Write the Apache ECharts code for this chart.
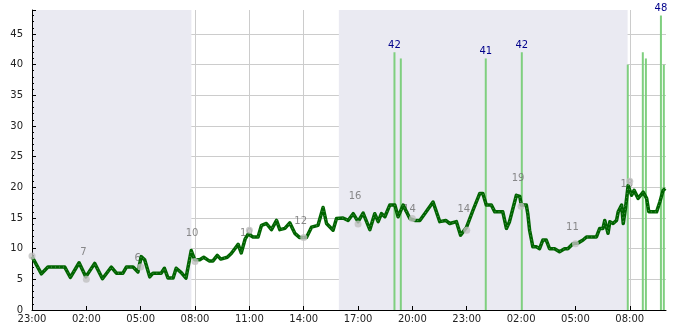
<!DOCTYPE html>
<html>
<head>
<meta charset="utf-8">
<script src="https://cdn.jsdelivr.net/npm/echarts@6/dist/echarts.min.js"></script>
<style>html,body{margin:0;padding:0;background:#fff;}#c{width:685px;height:330px;}</style>
</head>
<body>
<div id="c"></div>
<script>
// hours since 23:00 of the first day
const lineHours = [0.00,0.52,0.88,1.81,2.12,2.60,2.97,3.46,3.89,4.38,
4.66,5.02,5.21,5.58,5.85,6.03,6.22,6.50,6.68,7.13,
7.31,7.51,7.79,7.96,8.24,8.50,8.79,8.98,9.26,9.48,
9.78,9.99,10.23,10.42,10.78,11.00,11.28,11.38,11.55,11.77,
11.94,12.05,12.20,12.48,12.67,12.94,13.22,13.50,13.68,13.96,
14.23,14.51,14.78,15.15,15.43,15.79,16.07,16.26,16.62,16.81,
17.17,17.45,17.73,18.00,18.28,18.65,18.92,19.11,19.29,19.48,
19.75,20.03,20.21,20.49,20.86,21.13,21.41,21.68,22.14,22.51,
22.84,23.06,23.43,23.66,23.99,24.35,24.72,24.89,25.08,25.36,
25.55,25.99,26.19,26.36,26.74,26.93,27.01,27.29,27.37,27.47,
27.65,27.84,28.02,28.20,28.39,28.57,28.85,29.12,29.40,29.58,
29.86,30.13,30.24,30.42,30.61,31.16,31.34,31.52,31.62,31.80,
31.90,32.08,32.27,32.36,32.55,32.64,32.77,32.91,33.10,33.24,
33.46,33.74,33.93,34.05,34.48,34.66,34.84,34.96];
const lineValues = [8.7,5.9,7.0,7.0,5.3,7.7,5.4,7.6,5.1,7.0,
6.0,6.0,7.0,7.0,6.2,8.7,8.2,5.4,6.0,6.0,
6.8,5.2,5.2,6.8,6.1,5.2,9.7,8.2,8.2,8.6,
8.0,8.0,8.9,8.3,8.6,9.2,10.3,10.7,9.3,11.6,
12.4,12.4,11.9,11.9,13.8,14.1,13.1,14.6,13.1,13.3,
14.2,12.5,11.8,11.8,13.5,13.8,16.7,14.1,13.0,14.9,
15.0,14.6,15.7,14.4,15.8,13.1,15.7,14.4,15.7,15.2,
17.1,17.1,15.2,17.1,14.9,14.6,14.6,15.7,17.6,14.4,
14.6,14.1,14.4,12.2,13.5,16.3,19.0,19.0,17.1,17.1,
16.0,16.0,13.3,14.4,18.7,18.5,17.1,17.1,15.7,13.0,
10.3,10.3,10.0,11.4,11.4,10.0,10.0,9.5,10.0,10.0,
10.8,10.9,10.8,11.4,11.9,11.9,13.3,13.3,14.6,12.5,
14.4,14.1,14.6,16.0,17.1,14.1,16.8,20.3,18.7,19.5,
18.2,19.2,18.2,16.0,16.0,17.6,19.5,19.8];

const dotHours = [0,3,6,9,12,15,18,21,24,27,30,33];
const dotValues = [8.8,5,7,7.9,13,11.8,14,14.9,13,16.9,10.8,21];
const noteValues = [null,7,6,10,10,12,16,14,14,19,11,18];

const spikeHours = [20.01,20.36,25.05,27.04,32.89,33.72,33.89,34.72,34.88];
const spikeValues = [42,41,41,42,40,42,41,48,40];
const spikeLabeled = [true,false,true,true,false,false,false,true,false];

const shadeRanges = [[0,8.80],[16.94,32.88]];
const tickLabelHourStart = 23;

const FONT = 'DejaVu Sans';

const lineData = lineHours.map((h,i)=>[h,lineValues[i]]);
const dotData = dotHours.map((h,i)=>[h,dotValues[i]]);
const noteData = [];
dotHours.forEach((h,i)=>{ if(noteValues[i]!=null) noteData.push([h,noteValues[i]]); });
const spikeData = spikeHours.map((h,i)=>({value:[h,spikeValues[i]], label:{show:spikeLabeled[i]}}));

const chart = echarts.init(document.getElementById('c'), null, {renderer:'canvas'});
chart.setOption({
  animation:false,
  grid:{left:32,right:19,top:10,bottom:20,containLabel:false},
  xAxis:{
    type:'value',min:0,max:35,interval:3,z:1,
    axisLine:{show:true,onZero:false,lineStyle:{color:'#000',width:1}},
    axisTick:{show:true,inside:true,length:4,lineStyle:{color:'#000'}},
    axisLabel:{show:true,margin:4,color:'#222',fontFamily:FONT,fontSize:10,showMaxLabel:false,
      formatter:function(v){ if(Math.abs(v/3-Math.round(v/3))>1e-6) return ''; var hh=(tickLabelHourStart+Math.round(v))%24; return (hh<10?'0':'')+hh+':00';}},
    splitLine:{show:true,showMaxLine:false,lineStyle:{color:'#cccccc',width:1}}
  },
  yAxis:{
    type:'value',min:0,max:48.9,interval:5,z:1,
    axisLine:{show:true,lineStyle:{color:'#000',width:1}},
    axisTick:{show:true,inside:true,length:4,lineStyle:{color:'#000'}},
    minorTick:{show:true,splitNumber:5,length:2,lineStyle:{color:'#000'}},
    axisLabel:{show:true,margin:9,color:'#222',fontFamily:FONT,fontSize:10,showMaxLabel:false},
    splitLine:{show:true,showMaxLine:false,lineStyle:{color:'#cccccc',width:1}}
  },
  series:[
    {type:'line',z:0,data:[],silent:true,
      markArea:{silent:true,itemStyle:{color:'#eaeaf2'},
        data:shadeRanges.map(r=>[{xAxis:r[0]},{xAxis:r[1]}])}},
    {type:'bar',z:2,barWidth:2,data:spikeData,itemStyle:{color:'#7fcf7f'},
      label:{show:false,position:'top',distance:2,color:'#00008b',fontFamily:FONT,fontSize:10}},
    {type:'scatter',z:3,symbolSize:1,itemStyle:{color:'rgba(0,0,0,0)'},data:noteData,
      label:{show:true,position:'inside',offset:[-3,-15],color:'#6e6e6e',fontFamily:FONT,fontSize:10,
        formatter:function(p){return String(p.value[1]);}}},
    {type:'line',z:4,data:lineData,symbol:'none',lineStyle:{color:'#006400',width:3.5,join:'round'}},
    {type:'line',z:5,data:lineData,symbol:'none',lineStyle:{color:'rgba(230,245,230,0.45)',width:0.8,type:[1,3]}},
    {type:'scatter',z:6,symbolSize:7,data:dotData,itemStyle:{color:'#c0c0c0'}}
  ]
});
</script>
</body>
</html>
